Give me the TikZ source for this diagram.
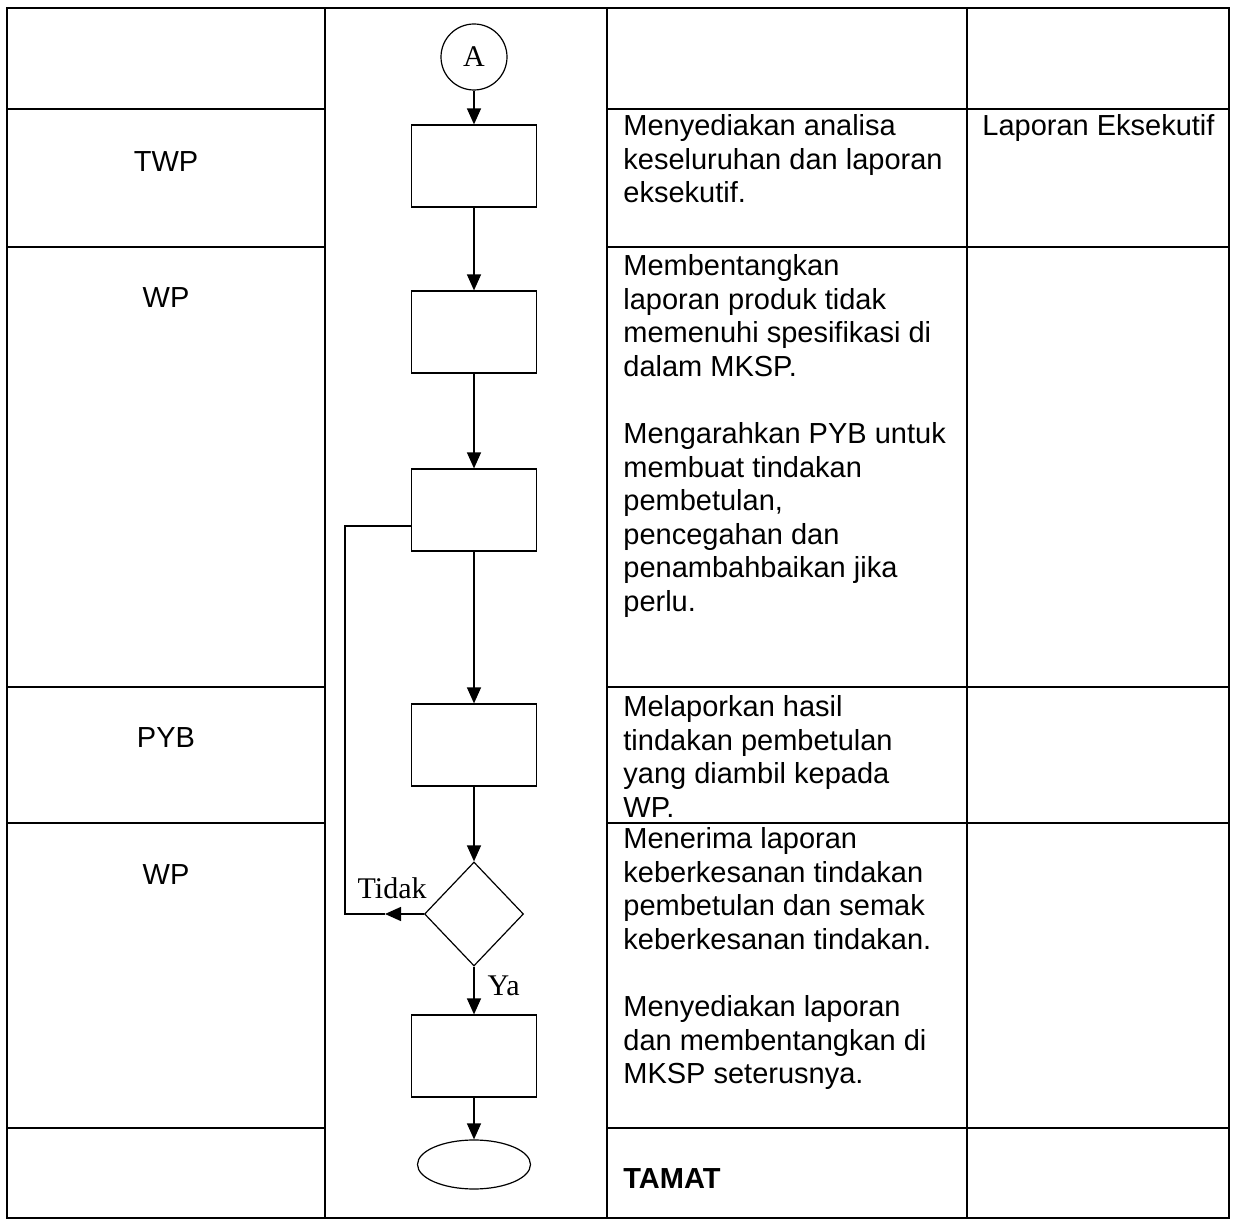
\documentclass[tikz,border=0pt]{standalone}
\usepackage{fontspec}
\setmainfont{Liberation Sans}
\newfontfamily\timesfont{Liberation Serif}
\usetikzlibrary{shapes.geometric,arrows.meta}

\begin{document}
\begin{tikzpicture}[x=0.5pt,y=-0.5pt]
    \tikzstyle{box}=[rectangle,draw,line width=0.6pt,minimum width=62.5pt,minimum height=41pt,inner sep=0pt]
    \tikzstyle{flow}=[-{Triangle[length=8pt,width=7pt]},line width=0.7pt]
    \tikzstyle{cell}=[font=\fontsize{14.5}{16.8}\selectfont,inner sep=0pt,align=left,anchor=north west]
    \tikzstyle{who}=[font=\fontsize{14.5}{16.8}\selectfont,inner sep=0pt,anchor=base]
    \tikzstyle{tbl}=[line width=0.85pt]
    \tikzstyle{lbl}=[font=\timesfont\fontsize{15}{18}\selectfont,inner sep=0pt]
    \useasboundingbox (0,0) rectangle (1233,1224);

    % table
    \draw[tbl] (7,8) rectangle (1229,1218);
    \draw[tbl] (325,8) -- (325,1218) (607,8) -- (607,1218) (967,8) -- (967,1218);
    \draw[tbl] (7,109) -- (325,109) (607,109) -- (1229,109)
               (7,247) -- (325,247) (607,247) -- (1229,247)
               (7,687) -- (325,687) (607,687) -- (1229,687)
               (7,823) -- (325,823) (607,823) -- (1229,823)
               (7,1128) -- (325,1128) (607,1128) -- (1229,1128);

    % who
    \node (twp) at (166,172) [who] {TWP};
    \node (wp1) at (166,308) [who] {WP};
    \node (pyb) at (166,748) [who] {PYB};
    \node (wp2) at (166,885) [who] {WP};

    % what
    \node (t2) at (623,114) [cell] {Menyediakan analisa\\keseluruhan dan laporan\\eksekutif.};
    \node (t3) at (623,254) [cell] {Membentangkan\\laporan produk tidak\\memenuhi spesifikasi di\\dalam MKSP.\\[16.8pt]Mengarahkan PYB untuk\\membuat tindakan\\pembetulan,\\pencegahan dan\\penambahbaikan jika\\perlu.};
    \node (t4) at (623,695) [cell] {Melaporkan hasil\\tindakan pembetulan\\yang diambil kepada\\WP.};
    \node (t5) at (623,827) [cell] {Menerima laporan\\keberkesanan tindakan\\pembetulan dan semak\\keberkesanan tindakan.\\[16.8pt]Menyediakan laporan\\dan membentangkan di\\MKSP seterusnya.};
    \node (tamat) at (623,1188) [who,anchor=base west,font=\fontsize{14.5}{16.8}\selectfont\bfseries] {TAMAT};
    \node (out) at (982,114) [cell] {Laporan Eksekutif};

    % flow
    \node (A) at (474,57) [circle,draw,line width=0.6pt,minimum size=33pt,lbl] {A};
    \node (b1) at (474,166) [box] {};
    \node (b2) at (474,332) [box] {};
    \node (b3) at (474,510) [box] {};
    \node (b4) at (474,745) [box] {};
    \node (dec) at (474,914) [diamond,draw,line width=0.6pt,minimum width=49.5pt,minimum height=52pt,inner sep=0pt] {};
    \node (b5) at (474,1056) [box] {};
    \node (stop) at (474,1164.5) [ellipse,draw,line width=0.6pt,minimum width=56.5pt,minimum height=24.5pt,inner sep=0pt] {};

    \path[draw,flow] (A) edge (b1) (b1) edge (b2) (b2) edge (b3) (b3) edge (b4) (b4) edge (dec)
                     (dec) edge node[pos=0.4,right,lbl,xshift=6.5pt] {Ya} (b5) (b5) edge (stop);

    \coordinate (tip) at (385,914);
    \coordinate (corner) at (345,914);
    \path[draw,flow] (dec.west) -- (tip);
    \draw[line width=0.55pt] (tip) -- (corner) |- ([yshift=-8pt]b3.west);
    \node (no) at (427,899) [lbl,anchor=base east] {Tidak};
\end{tikzpicture}
\end{document}
